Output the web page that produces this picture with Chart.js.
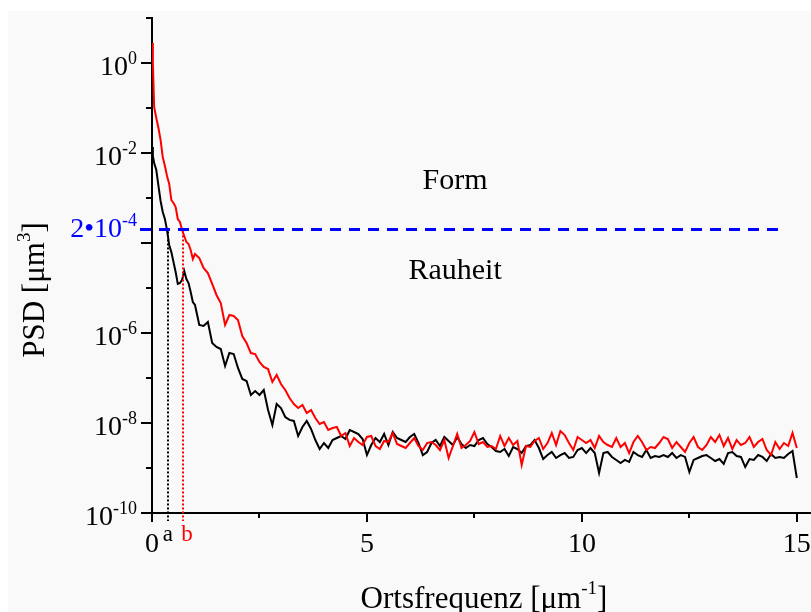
<!DOCTYPE html>
<html>
<head>
<meta charset="utf-8">
<script src="https://cdn.jsdelivr.net/npm/chart.js@4.4.0/dist/chart.umd.min.js"></script>
<style>
  html, body { margin: 0; padding: 0; background: #ffffff; }
  canvas { display: block; }
</style>
</head>
<body>
<canvas id="psdChart" width="811" height="612"></canvas>
<script>
// ==== Data ====
const freq = [
  0, 0.02, 0.05, 0.1, 0.15, 0.2, 0.25, 0.3, 0.35, 0.4, 0.45, 0.5, 0.55, 0.6, 0.65, 0.7, 0.75, 0.8, 0.85, 0.9, 0.95, 1.0,
  1.1, 1.2, 1.3, 1.4, 1.5, 1.6, 1.7, 1.8, 1.9, 2.0, 2.1, 2.2, 2.3, 2.4, 2.5, 2.6, 2.7, 2.8, 2.9, 3.0,
  3.1, 3.2, 3.3, 3.4, 3.5, 3.6, 3.7, 3.8, 3.9, 4.0, 4.1, 4.2, 4.3, 4.4, 4.5, 4.6, 4.7, 4.8, 4.9, 5.0,
  5.1, 5.2, 5.3, 5.4, 5.5, 5.6, 5.7, 5.8, 5.9, 6.0, 6.1, 6.2, 6.3, 6.4, 6.5, 6.6, 6.7, 6.8, 6.9, 7.0,
  7.1, 7.2, 7.3, 7.4, 7.5, 7.6, 7.7, 7.8, 7.9, 8.0, 8.1, 8.2, 8.3, 8.4, 8.5, 8.6, 8.7, 8.8, 8.9, 9.0,
  9.1, 9.2, 9.3, 9.4, 9.5, 9.6, 9.7, 9.8, 9.9, 10.0, 10.1, 10.2, 10.3, 10.4, 10.5, 10.6, 10.7, 10.8, 10.9, 11.0,
  11.1, 11.2, 11.3, 11.4, 11.5, 11.6, 11.7, 11.8, 11.9, 12.0, 12.1, 12.2, 12.3, 12.4, 12.5, 12.6, 12.7, 12.8, 12.9, 13.0,
  13.1, 13.2, 13.3, 13.4, 13.5, 13.6, 13.7, 13.8, 13.9, 14.0, 14.1, 14.2, 14.3, 14.4, 14.5, 14.6, 14.7, 14.8, 14.9, 15.0
];

const psdRed = [
  2.78, 1.0, 0.105, 6.0e-2, 3.59e-2, 1.94e-2, 8.15e-3, 5.14e-3, 3.08e-3, 2.05e-3, 9.03e-4, 7.74e-4, 6.31e-4, 3.41e-4, 2.93e-4, 1.94e-4, 1.43e-4, 1.05e-4, 9.51e-5, 7.0e-5, 4.41e-5, 5.7e-5,
  4.64e-5, 2.78e-5, 2.15e-5, 1.23e-5, 7.0e-6, 4.64e-6, 1.51e-6, 2.51e-6, 2.39e-6, 1.94e-6, 8.58e-7, 6.0e-7, 3.59e-7, 3.41e-7, 2.27e-7, 1.76e-7, 1.58e-7, 8.15e-8, 1.17e-7, 7.36e-8,
  5.41e-8, 3.59e-8, 2.64e-8, 2.15e-8, 2.51e-8, 1.67e-8, 1.94e-8, 1.29e-8, 9.51e-9, 1.05e-8, 7.0e-9, 7.74e-9, 8.15e-9, 5.14e-9, 6.0e-9, 3.08e-9, 4.64e-9, 3.78e-9, 3.24e-9, 4.89e-9,
  5.14e-9, 3.08e-9, 2.64e-9, 3.98e-9, 3.78e-9, 6.0e-9, 3.41e-9, 3.08e-9, 2.78e-9, 3.59e-9, 4.64e-9, 3.08e-9, 2.51e-9, 3.59e-9, 3.78e-9, 3.24e-9, 2.51e-9, 4.19e-9, 1.67e-9, 3.08e-9,
  5.7e-9, 2.78e-9, 3.24e-9, 3.98e-9, 6.31e-9, 3.41e-9, 3.78e-9, 2.93e-9, 3.08e-9, 2.64e-9, 5.14e-9, 3.08e-9, 4.64e-9, 3.24e-9, 3.98e-9, 1.17e-9, 3.08e-9, 2.93e-9, 3.98e-9, 4.64e-9,
  2.64e-9, 3.59e-9, 6.0e-9, 3.24e-9, 6.64e-9, 5.41e-9, 3.59e-9, 2.51e-9, 4.89e-9, 4.19e-9, 3.59e-9, 4.19e-9, 2.78e-9, 5.14e-9, 3.78e-9, 3.24e-9, 2.93e-9, 4.64e-9, 2.93e-9, 3.59e-9,
  2.15e-9, 3.78e-9, 5.14e-9, 3.78e-9, 2.51e-9, 2.93e-9, 2.78e-9, 3.59e-9, 4.89e-9, 4.41e-9, 2.78e-9, 3.78e-9, 2.93e-9, 2.27e-9, 3.59e-9, 4.89e-9, 2.93e-9, 2.51e-9, 3.24e-9, 4.89e-9,
  3.78e-9, 5.41e-9, 3.08e-9, 4.64e-9, 2.64e-9, 4.19e-9, 3.24e-9, 3.59e-9, 4.89e-9, 2.93e-9, 3.78e-9, 4.41e-9, 2.51e-9, 1.94e-9, 3.78e-9, 2.64e-9, 3.59e-9, 3.08e-9, 6.0e-9, 2.78e-9
];

const psdBlack = [
  1.36e-2, 8.58e-3, 6.0e-3, 4.19e-3, 1.85e-3, 8.58e-4, 4.89e-4, 3.41e-4, 1.94e-4, 9.03e-5, 6.31e-5, 3.78e-5, 2.27e-5, 1.23e-5, 1.29e-5, 1.51e-5, 2.39e-5, 1.58e-5, 1.29e-5, 8.15e-6, 4.89e-6, 4.19e-6,
  1.51e-6, 1.43e-6, 1.76e-6, 6.0e-7, 4.89e-7, 4.41e-7, 1.85e-7, 3.59e-7, 3.41e-7, 1.67e-7, 9.51e-8, 8.58e-8, 4.19e-8, 5.14e-8, 4.19e-8, 5.41e-8, 1.94e-8, 9.03e-9, 2.64e-8, 2.15e-8,
  1.36e-8, 1.17e-8, 1.11e-8, 5.14e-9, 8.15e-9, 1.11e-8, 7.36e-9, 4.19e-9, 2.64e-9, 3.59e-9, 2.78e-9, 4.19e-9, 4.64e-9, 5.14e-9, 4.41e-9, 7.0e-9, 6.31e-9, 5.7e-9, 4.41e-9, 1.94e-9,
  3.24e-9, 4.64e-9, 3.78e-9, 5.7e-9, 3.24e-9, 6.31e-9, 4.64e-9, 4.19e-9, 3.78e-9, 4.89e-9, 5.7e-9, 3.59e-9, 1.94e-9, 2.27e-9, 3.59e-9, 4.19e-9, 3.08e-9, 4.89e-9, 3.98e-9, 3.24e-9,
  4.89e-9, 3.41e-9, 2.78e-9, 3.24e-9, 3.08e-9, 4.19e-9, 4.64e-9, 3.41e-9, 2.93e-9, 2.39e-9, 2.27e-9, 2.64e-9, 1.85e-9, 2.93e-9, 2.64e-9, 2.15e-9, 3.08e-9, 3.24e-9, 4.19e-9, 2.78e-9,
  1.58e-9, 1.94e-9, 2.27e-9, 1.67e-9, 1.94e-9, 2.15e-9, 1.67e-9, 1.76e-9, 2.51e-9, 2.78e-9, 2.15e-9, 2.78e-9, 2.15e-9, 7.74e-10, 2.15e-9, 2.27e-9, 1.76e-9, 1.51e-9, 1.29e-9, 1.51e-9,
  1.36e-9, 2.27e-9, 1.94e-9, 1.76e-9, 2.51e-9, 1.67e-9, 1.85e-9, 1.76e-9, 1.94e-9, 1.76e-9, 2.15e-9, 1.67e-9, 1.94e-9, 1.76e-9, 8.15e-10, 1.51e-9, 1.67e-9, 1.85e-9, 1.94e-9, 1.67e-9,
  1.43e-9, 1.58e-9, 1.23e-9, 2.15e-9, 2.27e-9, 1.85e-9, 1.76e-9, 1.05e-9, 1.58e-9, 1.51e-9, 1.94e-9, 1.76e-9, 1.43e-9, 2.05e-9, 1.67e-9, 1.76e-9, 1.67e-9, 2.05e-9, 2.39e-9, 6.0e-10
];

// threshold between "Form" and "Rauheit" and the two cut-off frequencies
const threshold = 2e-4;
const markA = 0.37;
const markB = 0.72;

// axis ticks
const xMajorTicks = [0, 5, 10, 15];
const xMinorTicks = [2.5, 7.5, 12.5];
const yDecades = [-10, -9, -8, -7, -6, -5, -4, -3, -2, -1, 0, 1];
const yLabelled = [-10, -8, -6, -2, 0];

// ==== Helpers ====
const SERIF = '"Liberation Serif", "Times New Roman", serif';

function toPoints(values) {
  return values.map((v, i) => ({ x: freq[i], y: v }));
}

// draws base text plus a superscript
function drawSup(ctx, base, sup, x, y, size, supSize, align, color) {
  ctx.fillStyle = color;
  ctx.textBaseline = "alphabetic";
  ctx.textAlign = "left";
  ctx.font = `${size}px ${SERIF}`;
  const wb = ctx.measureText(base).width;
  ctx.font = `${supSize}px ${SERIF}`;
  const ws = ctx.measureText(sup).width;
  let left = x;
  if (align === "right") left = x - wb - ws;
  if (align === "center") left = x - (wb + ws) / 2;
  ctx.font = `${size}px ${SERIF}`;
  ctx.fillText(base, left, y);
  ctx.font = `${supSize}px ${SERIF}`;
  ctx.fillText(sup, left + wb, y - size * 0.4);
}

// ==== Plugin: background, ticks, labels, annotations ====
const overlay = {
  id: "overlay",
  beforeDraw(chart) {
    const ctx = chart.ctx;
    ctx.save();
    ctx.fillStyle = "#ffffff";
    ctx.fillRect(0, 0, chart.width, chart.height);
    ctx.fillStyle = "#f9f9f9";
    ctx.fillRect(8, 11, chart.width - 8, chart.height - 11);
    ctx.restore();
  },
  afterDatasetsDraw(chart) {
    const { ctx, chartArea: a, scales: { x, y } } = chart;
    ctx.save();

    // dashed threshold line
    const ty = y.getPixelForValue(threshold);
    ctx.strokeStyle = "#0000ff";
    ctx.lineWidth = 3;
    ctx.setLineDash([11, 8]);
    ctx.beginPath();
    ctx.moveTo(a.left - 12, ty);
    ctx.lineTo(x.getPixelForValue(14.7), ty);
    ctx.stroke();

    // dotted cut-off lines
    ctx.lineWidth = 2;
    ctx.setLineDash([2, 2]);
    [[markA, "#000000"], [markB, "#ff0000"]].forEach(([f, col]) => {
      const px = Math.round(x.getPixelForValue(f));
      ctx.strokeStyle = col;
      ctx.beginPath();
      ctx.moveTo(px, ty + 2);
      ctx.lineTo(px, a.bottom + 8);
      ctx.stroke();
    });
    ctx.setLineDash([]);

    // tick marks
    ctx.strokeStyle = "#000000";
    ctx.lineWidth = 2;
    yDecades.forEach(e => {
      const py = Math.round(y.getPixelForValue(Math.pow(10, e)));
      const len = e % 2 === 0 ? 11 : 6;
      ctx.beginPath();
      ctx.moveTo(a.left - len, py);
      ctx.lineTo(a.left, py);
      ctx.stroke();
    });
    xMajorTicks.forEach(v => {
      const px = Math.round(x.getPixelForValue(v));
      ctx.beginPath();
      ctx.moveTo(px, a.bottom);
      ctx.lineTo(px, a.bottom + 9);
      ctx.stroke();
    });
    xMinorTicks.forEach(v => {
      const px = Math.round(x.getPixelForValue(v));
      ctx.beginPath();
      ctx.moveTo(px, a.bottom);
      ctx.lineTo(px, a.bottom + 5);
      ctx.stroke();
    });

    // y tick labels
    yLabelled.forEach(e => {
      const py = y.getPixelForValue(Math.pow(10, e));
      drawSup(ctx, "10", String(e), a.left - 15, py + 12, 28, 18, "right", "#000000");
    });

    // x tick labels
    ctx.fillStyle = "#000000";
    ctx.font = `28px ${SERIF}`;
    ctx.textAlign = "center";
    ctx.textBaseline = "alphabetic";
    xMajorTicks.forEach(v => {
      ctx.fillText(String(v), x.getPixelForValue(v), a.bottom + 39);
    });

    // a / b markers
    ctx.font = `23px ${SERIF}`;
    ctx.fillStyle = "#000000";
    ctx.fillText("a", x.getPixelForValue(markA), a.bottom + 28);
    ctx.fillStyle = "#ff0000";
    ctx.fillText("b", x.getPixelForValue(markB) + 4, a.bottom + 28);

    // threshold label
    drawSup(ctx, "2\u202210", "-4", a.left - 15, ty + 8, 28, 18, "right", "#0000ff");

    // region labels
    ctx.fillStyle = "#000000";
    ctx.font = `30px ${SERIF}`;
    ctx.textAlign = "center";
    ctx.fillText("Form", x.getPixelForValue(7.05), y.getPixelForValue(1.58e-3));
    ctx.fillText("Rauheit", x.getPixelForValue(7.05), y.getPixelForValue(1.58e-5));

    // x axis title
    ctx.font = `31px ${SERIF}`;
    const t1 = "Ortsfrequenz [\u03bcm";
    const w1 = ctx.measureText(t1).width;
    ctx.font = `19px ${SERIF}`;
    const w2 = ctx.measureText("-1").width;
    ctx.font = `31px ${SERIF}`;
    const w3 = ctx.measureText("]").width;
    let left = 484 - (w1 + w2 + w3) / 2;
    ctx.textAlign = "left";
    ctx.fillText(t1, left, 608);
    ctx.font = `19px ${SERIF}`;
    ctx.fillText("-1", left + w1, 608 - 14);
    ctx.font = `31px ${SERIF}`;
    ctx.fillText("]", left + w1 + w2, 608);

    // y axis title (rotated)
    ctx.save();
    ctx.translate(44, 290);
    ctx.rotate(-Math.PI / 2);
    ctx.font = `31px ${SERIF}`;
    const s1 = "PSD [\u03bcm";
    const v1 = ctx.measureText(s1).width;
    ctx.font = `19px ${SERIF}`;
    const v2 = ctx.measureText("3").width;
    ctx.font = `31px ${SERIF}`;
    const v3 = ctx.measureText("]").width;
    let start = -(v1 + v2 + v3) / 2;
    ctx.fillText(s1, start, 0);
    ctx.font = `19px ${SERIF}`;
    ctx.fillText("3", start + v1, -14);
    ctx.font = `31px ${SERIF}`;
    ctx.fillText("]", start + v1 + v2, 0);
    ctx.restore();

    ctx.restore();
  }
};

// ==== Chart ====
const ctx = document.getElementById("psdChart").getContext("2d");
new Chart(ctx, {
  type: "line",
  data: {
    datasets: [
      {
        label: "b",
        data: toPoints(psdRed),
        borderColor: "#ff0000",
        borderWidth: 2,
        pointRadius: 0,
        tension: 0,
        fill: false
      },
      {
        label: "a",
        data: toPoints(psdBlack),
        borderColor: "#000000",
        borderWidth: 2,
        pointRadius: 0,
        tension: 0,
        fill: false
      }
    ]
  },
  options: {
    responsive: false,
    animation: false,
    devicePixelRatio: 1,
    layout: { padding: { top: 18, right: 0, left: 0, bottom: 0 } },
    plugins: {
      legend: { display: false },
      tooltip: { enabled: false }
    },
    scales: {
      x: {
        type: "linear",
        min: 0,
        max: 15.33,
        grid: { display: false },
        border: { display: true, color: "#000000", width: 2 },
        ticks: { display: false },
        afterFit: scale => { scale.height = 99; }
      },
      y: {
        type: "logarithmic",
        min: 1e-10,
        max: 10,
        grid: { display: false },
        border: { display: true, color: "#000000", width: 2 },
        ticks: { display: false },
        afterFit: scale => { scale.width = 152; }
      }
    }
  },
  plugins: [overlay]
});
</script>
</body>
</html>
